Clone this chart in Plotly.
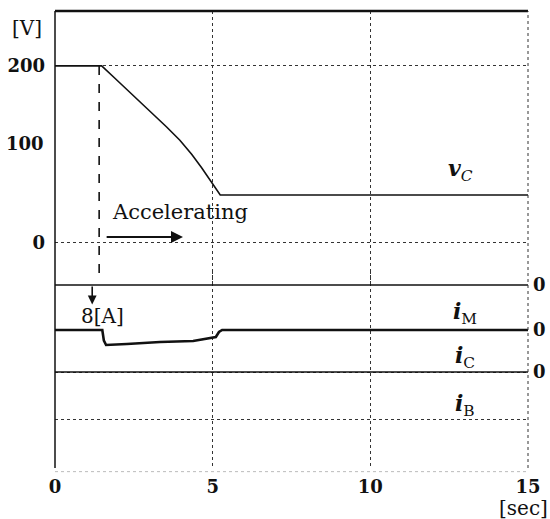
import plotly.graph_objects as go

# ---- data ----
t_v = [0, 1.48, 1.90, 2.38, 2.75, 3.12, 3.54, 3.96, 4.34, 4.65, 4.97, 5.07, 5.18, 5.24, 15]
v_c = [200, 200, 186, 170, 158, 145.5, 131, 116, 100, 85, 68.5, 63, 56.5, 54.2, 54.2]

t_m = [0, 15]
i_m = [0, 0]

t_c = [0, 1.50, 1.55, 1.62, 2.28, 3.33, 4.38, 4.98, 5.10, 5.20, 5.30, 15]
i_c = [0, 0, -1.8, -2.55, -2.38, -2.04, -1.87, -1.36, -1.2, -0.34, 0, 0]

t_b = [0, 15]
i_b = [0, 0]

x_ticks = [0, 5, 10, 15]
v_ticks = [0, 200]

FONT = "DejaVu Serif"
INK = "#111111"

fig = go.Figure()
fig.add_trace(go.Scatter(x=t_v, y=v_c, mode="lines", line=dict(color=INK, width=1.6),
                         xaxis="x", yaxis="y", showlegend=False))
fig.add_trace(go.Scatter(x=t_m, y=i_m, mode="lines", line=dict(color=INK, width=1.6),
                         xaxis="x", yaxis="y3", showlegend=False))
fig.add_trace(go.Scatter(x=t_c, y=i_c, mode="lines", line=dict(color=INK, width=2.6),
                         xaxis="x", yaxis="y4", showlegend=False))
fig.add_trace(go.Scatter(x=t_b, y=i_b, mode="lines", line=dict(color=INK, width=1.6),
                         xaxis="x", yaxis="y5", showlegend=False))

grid = dict(showgrid=True, gridcolor="#333333", griddash="dot", gridwidth=1)
tickf = dict(size=18, family=FONT, weight="bold")

fig.update_layout(
    width=550, height=519,
    margin=dict(l=55, r=22, t=11, b=51),
    paper_bgcolor="white", plot_bgcolor="rgba(0,0,0,0)",
    font=dict(family=FONT, color=INK, size=18),
    xaxis=dict(domain=[0, 1], range=[0, 15], anchor="y3", tickvals=x_ticks,
               ticks="", ticklabelstandoff=6, zeroline=False, showline=False,
               automargin=False, tickfont=tickf, **grid),
    yaxis=dict(domain=[0.4004, 1], range=[-47.5, 262], anchor="x", tickvals=v_ticks,
               ticks="", ticklabelstandoff=9, zeroline=False, showline=False,
               automargin=False, tickfont=tickf, **grid),
    yaxis3=dict(domain=[0, 0.43], range=[-31.15, 2.30], anchor="x", side="right",
                tickvals=[0], ticks="", ticklabelstandoff=4, zeroline=False,
                automargin=False, showgrid=False, tickfont=tickf),
    yaxis4=dict(range=[-23.49, 9.96], overlaying="y3", anchor="x", side="right",
                tickvals=[0], ticks="", ticklabelstandoff=4, zeroline=False,
                automargin=False, showgrid=False, tickfont=tickf),
    yaxis5=dict(range=[-16.34, 17.11], overlaying="y3", anchor="x", side="right",
                tickvals=[0, -8], ticktext=["0", ""], ticks="", ticklabelstandoff=4,
                automargin=False, zeroline=False, tickfont=tickf, **grid),
)

# frame
fig.add_shape(type="line", xref="paper", yref="paper", x0=0, x1=0, y0=0, y1=1,
              line=dict(color=INK, width=1.5))
fig.add_shape(type="line", xref="paper", yref="paper", x0=0, x1=1, y0=1, y1=1,
              line=dict(color=INK, width=2.5))
fig.add_shape(type="line", xref="paper", yref="paper", x0=1, x1=1, y0=0, y1=1,
              line=dict(color="#333333", width=1, dash="dot"))
fig.add_shape(type="line", xref="paper", yref="paper", x0=0, x1=1, y0=-0.008, y1=-0.008,
              line=dict(color="#bbbbbb", width=1, dash="dot"))

# dashed marker line at start of acceleration
fig.add_shape(type="line", xref="x", yref="y", x0=1.40, x1=1.40, y0=200, y1=-36,
              line=dict(color=INK, width=1.6, dash="dash"))

# arrows and texts
fig.add_annotation(x=4.06, y=6.8, ax=1.59, ay=6.8, xref="x", yref="y", axref="x", ayref="y",
                   text="", showarrow=True, arrowhead=2, arrowsize=1.2, arrowwidth=2,
                   arrowcolor=INK)
fig.add_annotation(x=3.96, y=35, xref="x", yref="y", text="Accelerating", showarrow=False,
                   font=dict(size=21, family=FONT))
fig.add_annotation(x=1.18, y=-3.3, ax=1.18, ay=0, xref="x", yref="y3", axref="x", ayref="y3",
                   text="", showarrow=True, arrowhead=2, arrowsize=1.1, arrowwidth=1.6,
                   arrowcolor=INK)
fig.add_annotation(x=1.52, y=-5.3, xref="x", yref="y3", text="8[A]", showarrow=False,
                   font=dict(size=20, family=FONT))

# y-axis unit label and labels for series
fig.add_annotation(x=-0.024, y=243, xref="paper", yref="y", text="[V]", showarrow=False,
                   xanchor="right", font=dict(size=20, family=FONT))
fig.add_annotation(x=-0.019, y=112, xref="paper", yref="y", text="100", showarrow=False,
                   xanchor="right", font=tickf)
fig.add_annotation(x=12.85, y=82, xref="x", yref="y", showarrow=False,
                   text="<b><i>v</i></b><i><sub>C</sub></i>", font=dict(size=22, family=FONT))
fig.add_annotation(x=13.0, y=-4.7, xref="x", yref="y3", showarrow=False,
                   text="<b><i>i</i></b><sub>M</sub>", font=dict(size=22, family=FONT))
fig.add_annotation(x=13.0, y=-4.6, xref="x", yref="y4", showarrow=False,
                   text="<b><i>i</i></b><sub>C</sub>", font=dict(size=22, family=FONT))
fig.add_annotation(x=13.0, y=-5.6, xref="x", yref="y5", showarrow=False,
                   text="<b><i>i</i></b><sub>B</sub>", font=dict(size=22, family=FONT))
fig.add_annotation(x=1.046, y=-0.088, xref="paper", yref="paper", text="[sec]", showarrow=False,
                   xanchor="right", yanchor="middle", font=dict(size=20, family=FONT))

fig.write_html("out.html")
